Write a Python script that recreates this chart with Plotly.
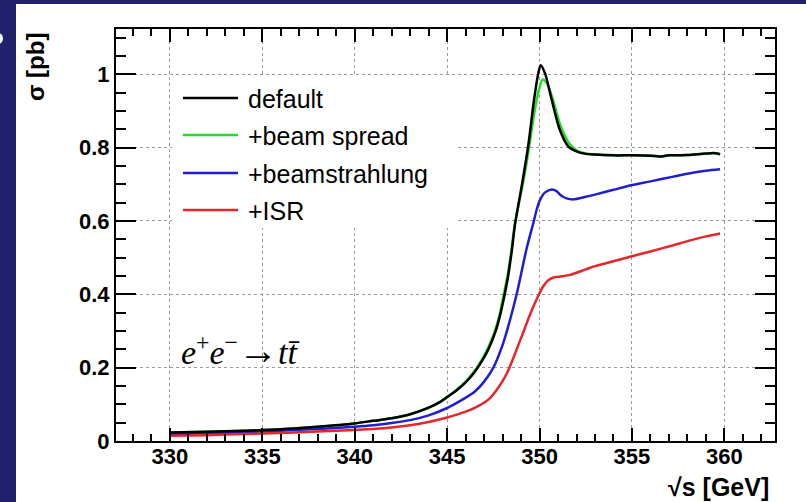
import plotly.graph_objects as go

# ---- data ----
E_default = [330, 332, 334, 336, 338, 340, 341, 342, 343, 344, 344.6, 345, 345.5, 346, 346.5, 347.0, 347.3,
             347.6, 347.85, 348.08, 348.3, 348.5, 348.67, 349.09, 349.4, 349.7, 349.9, 350.06, 350.3, 350.66,
             351.1, 351.56, 352.0, 352.5, 353, 354, 355, 356, 356.5, 357, 358, 359, 359.5, 359.77]
S_default = [0.023, 0.025, 0.028, 0.032, 0.039, 0.048, 0.055, 0.062, 0.073, 0.091, 0.106, 0.120, 0.138, 0.160,
             0.189, 0.228, 0.258, 0.296, 0.340, 0.392, 0.450, 0.520, 0.590, 0.712, 0.810, 0.930, 0.995, 1.025,
             1.002, 0.930, 0.848, 0.803, 0.790, 0.783, 0.781, 0.779, 0.779, 0.778, 0.776, 0.779, 0.780, 0.784,
             0.785, 0.782]

E_spread = [330, 332, 334, 336, 338, 340, 341, 342, 343, 344, 344.6, 345, 345.5, 346, 346.5, 347.0, 347.3,
            347.6, 347.85, 348.05, 348.28, 348.48, 348.65, 349.1, 349.4, 349.7, 349.95, 350.17, 350.4, 350.7,
            351.1, 351.6, 352.0, 352.5, 353, 354, 355, 356, 356.5, 357, 358, 359, 359.5, 359.77]
S_spread = [0.023, 0.025, 0.028, 0.032, 0.039, 0.048, 0.055, 0.062, 0.073, 0.091, 0.106, 0.120, 0.139, 0.162,
            0.192, 0.233, 0.264, 0.303, 0.347, 0.397, 0.455, 0.522, 0.588, 0.702, 0.790, 0.890, 0.955, 0.986,
            0.975, 0.935, 0.865, 0.812, 0.793, 0.784, 0.781, 0.779, 0.779, 0.778, 0.776, 0.779, 0.780, 0.784,
            0.785, 0.782]

E_beamstr = [330, 332, 334, 336, 338, 340, 341, 342, 343, 344, 345, 345.8, 346.5, 347.0, 347.5, 348.0, 348.4,
             348.76, 349.0, 349.3, 349.66, 349.85, 350.02, 350.3, 350.66, 350.9, 351.2, 351.5, 351.83, 352.5,
             353, 354, 355, 356, 357.24, 358, 359, 359.77]
S_beamstr = [0.019, 0.021, 0.024, 0.028, 0.033, 0.039, 0.043, 0.049, 0.057, 0.070, 0.090, 0.112, 0.135, 0.162,
             0.200, 0.262, 0.330, 0.400, 0.455, 0.525, 0.594, 0.632, 0.657, 0.678, 0.686, 0.682, 0.668, 0.661,
             0.659, 0.666, 0.672, 0.685, 0.698, 0.708, 0.721, 0.729, 0.737, 0.741]

E_isr = [330, 332, 334, 336, 338, 340, 341, 342, 343, 344, 345, 346, 346.7, 347.32, 347.8, 348.1, 348.37, 348.8,
         349.1, 349.5, 349.93, 350.2, 350.46, 350.75, 351.2, 351.65, 352.5, 353, 354, 355, 356, 357.24, 358,
         359, 359.77]
S_isr = [0.014, 0.016, 0.019, 0.022, 0.026, 0.030, 0.033, 0.037, 0.043, 0.052, 0.064, 0.080, 0.096, 0.117,
         0.148, 0.172, 0.200, 0.255, 0.294, 0.347, 0.396, 0.422, 0.438, 0.446, 0.449, 0.453, 0.468, 0.477,
         0.490, 0.504, 0.517, 0.534, 0.545, 0.558, 0.566]

series_names = ["default", "+beam spread", "+beamstrahlung", "+ISR"]
series_colors = ["#000000", "#22dd22", "#1f1fd0", "#e5262a"]

x_ticks = [330, 335, 340, 345, 350, 355, 360]
y_ticks = [0, 0.2, 0.4, 0.6, 0.8, 1]
y_ticktext = ["0", "0.2", "0.4", "0.6", "0.8", "1"]

X_RANGE = [327.08, 362.74]
Y_RANGE = [0, 1.1236]

# ---- geometry helpers (pixel -> paper / axis) ----
W, H = 806, 502
ML, MR, MT, MB = 116, 31, 29, 61
PW, PH = W - ML - MR, H - MT - MB


def px(xp):
    return (xp - ML) / PW


def py(yp):
    return (H - MB - yp) / PH


def ax_x(xp):
    return X_RANGE[0] + px(xp) * (X_RANGE[1] - X_RANGE[0])


def ax_y(yp):
    return Y_RANGE[0] + py(yp) * (Y_RANGE[1] - Y_RANGE[0])


SANS = "Liberation Sans, Arial, Helvetica, sans-serif"
SERIF = "Liberation Serif, Times New Roman, serif"
NAVY = "#21216b"

fig = go.Figure()
# draw green first so black lies on top where they coincide
order = [(E_spread, S_spread, 1), (E_beamstr, S_beamstr, 2), (E_isr, S_isr, 3), (E_default, S_default, 0)]
for xs, ys, i in order:
    fig.add_trace(go.Scatter(x=xs, y=ys, mode="lines", name=series_names[i],
                             line=dict(color=series_colors[i], width=2.5, shape="spline", smoothing=0.8),
                             showlegend=False))

axis_common = dict(
    showline=True, linecolor="black", linewidth=2, mirror="allticks",
    ticks="inside", tickcolor="black", tickwidth=2,
    showgrid=True, gridcolor="#9a9a9a", griddash="dot", gridwidth=1,
    zeroline=False,
    tickfont=dict(family=SANS, size=22, color="black", weight="bold"),
)

fig.update_xaxes(range=X_RANGE, tickmode="array", tickvals=x_ticks,
                 ticktext=[str(v) for v in x_ticks], ticklen=13, ticklabelstandoff=-5,
                 minor=dict(dtick=1, tick0=330, ticks="inside", ticklen=7, tickwidth=1.5,
                            tickcolor="black", showgrid=False),
                 **axis_common)
fig.update_yaxes(range=Y_RANGE, tickmode="array", tickvals=y_ticks, ticktext=y_ticktext,
                 ticklen=20,
                 minor=dict(dtick=0.05, tick0=0, ticks="inside", ticklen=10, tickwidth=1.5,
                            tickcolor="black", showgrid=False),
                 **axis_common)

shapes = [
    # white legend box hiding the grid (above grid, below traces)
    dict(type="rect", xref="x", yref="y", x0=ax_x(172), x1=ax_x(456), y0=ax_y(228), y1=ax_y(77),
         fillcolor="white", line=dict(width=0), layer="between"),
    # slide background strips
    dict(type="rect", xref="paper", yref="paper", x0=px(-20), x1=px(16), y0=py(520), y1=py(-20),
         fillcolor=NAVY, line=dict(width=0), layer="above"),
    dict(type="rect", xref="paper", yref="paper", x0=px(-20), x1=px(830), y0=py(4), y1=py(-20),
         fillcolor=NAVY, line=dict(width=0), layer="above"),
    dict(type="circle", xref="paper", yref="paper", x0=px(-7), x1=px(3), y0=py(44), y1=py(33),
         fillcolor="white", line=dict(width=0), layer="above"),
]

legend_rows = [98, 135, 173, 210]
annotations = []
for i, yrow in enumerate(legend_rows):
    shapes.append(dict(type="line", xref="paper", yref="paper", x0=px(183), x1=px(238),
                       y0=py(yrow), y1=py(yrow), line=dict(color=series_colors[i], width=2.5),
                       layer="above"))
    annotations.append(dict(xref="paper", yref="paper", x=px(246), y=py(yrow + 1), xanchor="left",
                            yanchor="middle", text=series_names[i], showarrow=False,
                            font=dict(family=SANS, size=25, color="black")))

annotations += [
    dict(xref="paper", yref="paper", x=px(35), y=py(31), xanchor="center", yanchor="top",
         text="σ [pb]", textangle=-90, showarrow=False,
         font=dict(family=SANS, size=24, color="black", weight="bold")),
    dict(xref="paper", yref="paper", x=px(771), y=py(487), xanchor="right", yanchor="middle",
         text="√s [GeV]", showarrow=False,
         font=dict(family=SANS, size=25, color="black", weight="bold")),
    dict(xref="paper", yref="paper", x=px(179), y=py(350), xanchor="left", yanchor="middle",
         text="<i>e</i><sup>+</sup><i>e</i><sup>−</sup><span style='font-size:40px'>→</span><i>tt\u0304</i>",
         showarrow=False,
         font=dict(family=SERIF, size=34, color="black")),
]

fig.update_layout(
    width=W, height=H, autosize=False,
    margin=dict(l=ML, r=MR, t=MT, b=MB, pad=0),
    paper_bgcolor="white", plot_bgcolor="white",
    shapes=shapes, annotations=annotations, showlegend=False,
)

fig.write_html("out.html")
